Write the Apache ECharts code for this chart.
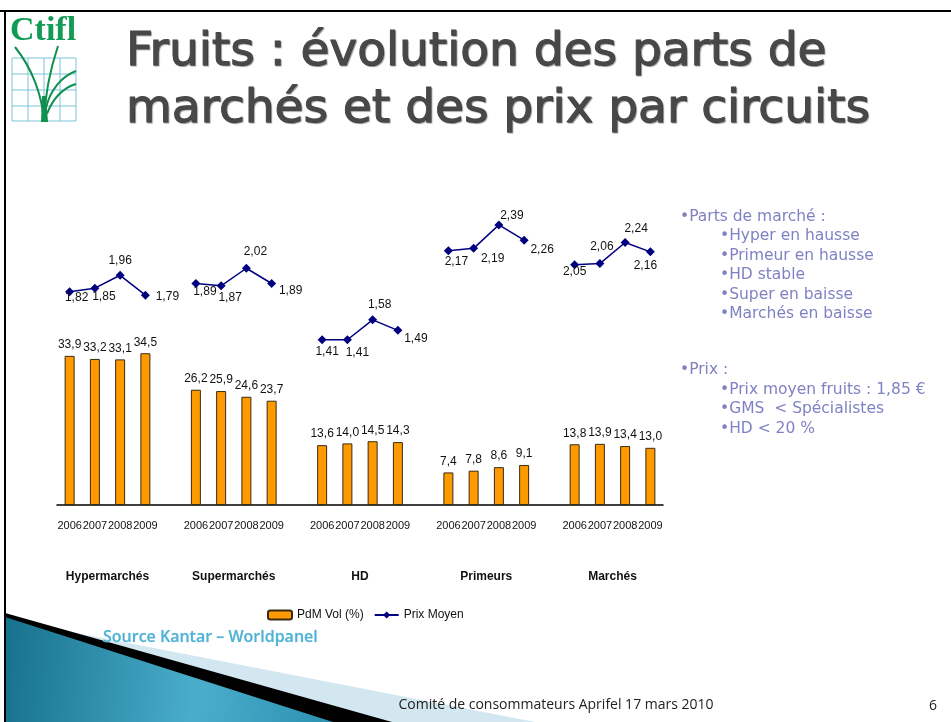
<!DOCTYPE html>
<html>
<head>
<meta charset="utf-8">
<script src="https://cdn.jsdelivr.net/npm/echarts@6/dist/echarts.min.js"></script>
<style>
html, body { margin: 0; padding: 0; background: #fff; }
#main { width: 951px; height: 722px; }
</style>
</head>
<body>
<div id="main"></div>
<script>
// circuits and years
var circuits = ['Hypermarchés', 'Supermarchés', 'HD', 'Primeurs', 'Marchés'];
var years = ['2006', '2007', '2008', '2009'];

// part de marché volume (%) per circuit, 2006 -> 2009
var pdmHyper = [33.9, 33.2, 33.1, 34.5];
var pdmSuper = [26.2, 25.9, 24.6, 23.7];
var pdmHD = [13.6, 14.0, 14.5, 14.3];
var pdmPrimeurs = [7.4, 7.8, 8.6, 9.1];
var pdmMarches = [13.8, 13.9, 13.4, 13.0];

// prix moyen (€/kg) per circuit, 2006 -> 2009
var prixHyper = [1.82, 1.85, 1.96, 1.79];
var prixSuper = [1.89, 1.87, 2.02, 1.89];
var prixHD = [1.41, 1.41, 1.58, 1.49];
var prixPrimeurs = [2.17, 2.19, 2.39, 2.26];
var prixMarches = [2.05, 2.06, 2.24, 2.16];

// where each price label sits around its point (dx, dy), same order as above
var prixLabelOffsets = [
	[7, 6], [9, 9], [0, -15], [22, 1],
	[9, 8], [9, 12], [9, -17], [19, 7],
	[5, 12], [10, 13], [7, -15], [18, 8],
	[8, 11], [19, 10], [13, -9], [18, 10],
	[0, 7], [2, -17], [11, -14], [-5, 14]
];

var sideTextParts = ['•Parts de marché :', '•Hyper en hausse', '•Primeur en hausse', '•HD stable', '•Super en baisse', '•Marchés en baisse'];
var sideTextPrix = ['•Prix :', '•Prix moyen fruits : 1,85 €', '•GMS  < Spécialistes', '•HD < 20 %'];

var pdmAll = [pdmHyper, pdmSuper, pdmHD, pdmPrimeurs, pdmMarches];
var prixAll = [prixHyper, prixSuper, prixHD, prixPrimeurs, prixMarches];

// 24 slots on the axis: 4 years per circuit, an empty slot between circuits
var slots = [];
var barData = [];
var lineData = [];
var k = 0;
for (var g = 0; g < circuits.length; g++) {
	for (var y = 0; y < years.length; y++) {
		slots.push(years[y]);
		barData.push(pdmAll[g][y]);
		lineData.push({
			value: prixAll[g][y],
			label: { offset: prixLabelOffsets[k] }
		});
		k++;
	}
	if (g < circuits.length - 1) {
		slots.push('');
		barData.push(null);
		lineData.push(null);
	}
}

function fr(v, d) {
	return v.toFixed(d).replace('.', ',');
}

var graphics = [];

// slide frame
graphics.push({ type: 'rect', shape: { x: 0, y: 10, width: 951, height: 2 }, style: { fill: '#000' }, z: 10 });
graphics.push({ type: 'rect', shape: { x: 4, y: 10, width: 2, height: 712 }, style: { fill: '#000' }, z: 10 });

// logo
graphics.push({ type: 'text', style: { text: 'Ctifl', x: 10, y: 14, font: 'bold 34px "Liberation Serif", serif', fill: '#129a57' }, z: 10 });
var gx = [12, 28, 44, 60, 76];
var gy = [58, 74, 90, 106, 121];
for (var i = 0; i < gx.length; i++) {
	graphics.push({ type: 'line', shape: { x1: gx[i], y1: 58, x2: gx[i], y2: 121 }, style: { stroke: '#7cc3dc', lineWidth: 1 }, z: 10 });
	graphics.push({ type: 'line', shape: { x1: 12, y1: gy[i], x2: 76, y2: gy[i] }, style: { stroke: '#7cc3dc', lineWidth: 1 }, z: 10 });
}
var stemStyle = { stroke: '#118f4f', fill: null, lineWidth: 2 };
graphics.push({ type: 'bezierCurve', shape: { x1: 15, y1: 47, cpx1: 32, cpy1: 68, cpx2: 42, cpy2: 95, x2: 44, y2: 121 }, style: stemStyle, z: 11 });
graphics.push({ type: 'bezierCurve', shape: { x1: 58, y1: 46, cpx1: 50, cpy1: 70, cpx2: 45, cpy2: 95, x2: 44, y2: 121 }, style: stemStyle, z: 11 });
graphics.push({ type: 'bezierCurve', shape: { x1: 76, y1: 71, cpx1: 62, cpy1: 76, cpx2: 50, cpy2: 90, x2: 46, y2: 108 }, style: stemStyle, z: 11 });
graphics.push({ type: 'bezierCurve', shape: { x1: 76, y1: 84, cpx1: 62, cpy1: 88, cpx2: 52, cpy2: 100, x2: 47, y2: 114 }, style: stemStyle, z: 11 });
graphics.push({ type: 'polygon', shape: { points: [[41, 122], [48, 122], [46, 96], [42, 96]] }, style: { fill: '#118f4f' }, z: 11 });

// side notes
for (var i = 0; i < sideTextParts.length; i++) {
	graphics.push({
		type: 'text',
		style: { text: sideTextParts[i], x: i === 0 ? 680 : 720, y: 217 + i * 19.4, font: '15.5px "DejaVu Sans", sans-serif', fill: '#7f82c2', verticalAlign: 'middle' },
		z: 10
	});
}
for (var i = 0; i < sideTextPrix.length; i++) {
	graphics.push({
		type: 'text',
		style: { text: sideTextPrix[i], x: i === 0 ? 680 : 720, y: 370 + i * 19.7, font: '15.5px "DejaVu Sans", sans-serif', fill: '#7f82c2', verticalAlign: 'middle' },
		z: 10
	});
}

// bottom-left decoration
graphics.push({ type: 'polygon', shape: { points: [[30, 624], [535, 722], [5, 722]] }, style: { fill: '#d2e7f0' }, z: 1 });
graphics.push({ type: 'polygon', shape: { points: [[5, 613], [392, 722], [5, 722]] }, style: { fill: '#000' }, z: 2 });
graphics.push({
	type: 'polygon',
	shape: { points: [[5, 617], [333, 722], [5, 722]] },
	style: {
		fill: {
			type: 'linear', x: 0, y: 0, x2: 1, y2: 0.3,
			colorStops: [{ offset: 0, color: '#16718d' }, { offset: 0.6, color: '#4aaecb' }, { offset: 1, color: '#2d93b3' }]
		}
	},
	z: 3
});
graphics.push({
	type: 'text',
	style: { text: 'Source Kantar – Worldpanel', x: 103, y: 637, font: '600 16px "Open Sans", sans-serif', fill: '#4db2d4', stroke: '#c8e8f2', lineWidth: 0.6, verticalAlign: 'middle' },
	z: 10
});
graphics.push({
	type: 'text',
	style: { text: 'Comité de consommateurs Aprifel 17 mars 2010', x: 556, y: 705, font: '14px "Open Sans", sans-serif', fill: '#222', align: 'center', verticalAlign: 'middle' },
	z: 10
});
graphics.push({
	type: 'text',
	style: { text: '6', x: 933, y: 706, font: '14px "Open Sans", sans-serif', fill: '#222', align: 'center', verticalAlign: 'middle' },
	z: 10
});

var chart = echarts.init(document.getElementById('main'));
var option = {
	backgroundColor: '#fff',
	animation: false,
	title: {
		text: 'Fruits : évolution des parts de\nmarchés et des prix par circuits',
		left: 126,
		top: 24,
		padding: 0,
		textStyle: {
			fontFamily: 'DejaVu Sans',
			fontSize: 47,
			fontWeight: 'normal',
			lineHeight: 57,
			color: '#484848',
			textBorderColor: '#484848',
			textBorderWidth: 1,
			textShadowColor: 'rgba(0,0,0,0.35)',
			textShadowBlur: 1,
			textShadowOffsetX: 1,
			textShadowOffsetY: 1
		}
	},
	legend: {
		left: 262,
		top: 604,
		itemWidth: 24,
		itemHeight: 9,
		itemGap: 10,
		textStyle: { fontFamily: 'Liberation Sans', fontSize: 12, color: '#111' },
		data: ['PdM Vol (%)', 'Prix Moyen']
	},
	grid: { left: 57, width: 606, top: 212, bottom: 217 },
	xAxis: [{
		type: 'category',
		data: slots,
		axisLine: { lineStyle: { color: '#000', width: 1.5 } },
		axisTick: { show: false },
		axisLabel: {
			interval: 0,
			margin: 15,
			fontFamily: 'Liberation Sans',
			fontSize: 11,
			color: '#111'
		}
	}, {
		type: 'value',
		position: 'bottom',
		min: 0,
		max: 24,
		axisLine: { show: false },
		axisTick: { show: false },
		splitLine: { show: false },
		axisLabel: {
			customValues: [2, 7, 12, 17, 22],
			margin: 66,
			fontFamily: 'Liberation Sans',
			fontSize: 12,
			fontWeight: 'bold',
			color: '#111',
			formatter: function (v) { return circuits[Math.round((v - 2) / 5)]; }
		}
	}],
	yAxis: [{
		type: 'value', min: 0, max: 66.6, show: false, splitLine: { show: false }
	}, {
		type: 'value', min: 0, max: 2.5, show: false, splitLine: { show: false }
	}],
	series: [{
		name: 'PdM Vol (%)',
		type: 'bar',
		data: barData,
		barWidth: 10,
		itemStyle: { color: '#ff9900', borderColor: '#3a2c12', borderWidth: 1 },
		label: {
			show: true,
			position: 'top',
			fontFamily: 'Liberation Sans',
			fontSize: 12,
			color: '#111',
			formatter: function (p) { return fr(p.value, 1); }
		}
	}, {
		name: 'Prix Moyen',
		type: 'line',
		yAxisIndex: 1,
		data: lineData,
		connectNulls: false,
		symbol: 'diamond',
		symbolSize: 9,
		color: '#000080',
		lineStyle: { color: '#000080', width: 1.5 },
		itemStyle: { color: '#000080' },
		label: {
			show: true,
			position: 'inside',
			fontFamily: 'Liberation Sans',
			fontSize: 12,
			color: '#111',
			formatter: function (p) { return fr(p.value, 2); }
		}
	}],
	graphic: graphics
};
chart.setOption(option);
</script>
</body>
</html>
